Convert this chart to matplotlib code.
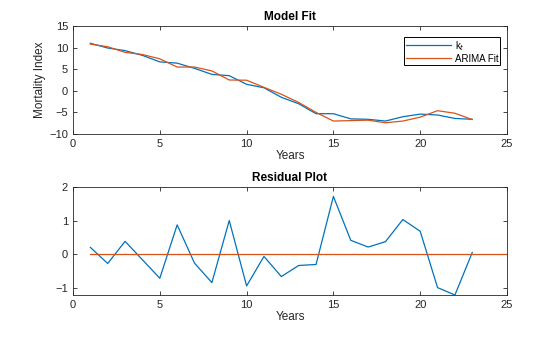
import matplotlib.pyplot as plt

# data
years = list(range(1, 24))
kt = [11.0, 9.9, 9.3, 8.2, 6.7, 6.4, 5.2, 3.8, 3.5, 1.5, 0.7, -1.5, -3.0, -5.3,
      -5.3, -6.5, -6.6, -7.0, -6.0, -5.4, -5.6, -6.4, -6.6]
arima_fit = [10.8, 10.2, 8.9, 8.4, 7.4, 5.5, 5.5, 4.6, 2.5, 2.45, 0.8, -0.8, -2.7,
             -5.0, -7.0, -6.9, -6.8, -7.4, -7.0, -6.1, -4.6, -5.2, -6.65]
residuals = [0.2, -0.28, 0.38, -0.17, -0.72, 0.87, -0.27, -0.85, 1.0, -0.95, -0.07,
             -0.67, -0.34, -0.31, 1.72, 0.41, 0.21, 0.37, 1.03, 0.68, -1.0, -1.22, 0.05]

blue = '#0072BD'
orange = '#D95319'
txt = '#262626'

plt.rcParams['font.family'] = 'Liberation Sans'
plt.rcParams['font.size'] = 8

fig = plt.figure(figsize=(5.6, 3.37), dpi=100)
ax1 = fig.add_axes([73/560, 1-134/337, 434/560, 108/337])
ax2 = fig.add_axes([73/560, 1-295/337, 434/560, 108/337])

ax1.plot(years, kt, color=blue, lw=0.9, label='k$_t$')
ax1.plot(years, arima_fit, color=orange, lw=0.9, label='ARIMA Fit')
ax1.set_xlim(0, 25)
ax1.set_ylim(-10, 15)
ax1.set_yticks([-10, -5, 0, 5, 10, 15])
ax1.set_title('Model Fit', fontweight='bold', fontsize=8.5, color='black', pad=4)
ax1.set_xlabel('Years', fontsize=8.5, color=txt, labelpad=1)
ax1.set_ylabel('Mortality Index', fontsize=8.5, color=txt, labelpad=2)
leg = ax1.legend(loc='upper right', fontsize=7, frameon=True, fancybox=False,
                 edgecolor='black', framealpha=1, handlelength=4.6,
                 bbox_to_anchor=(0.985, 0.9), borderaxespad=0,
                 handletextpad=0.4, labelspacing=0.1, borderpad=0.2)
leg.get_frame().set_linewidth(0.7)

ax2.plot(years, residuals, color=blue, lw=0.9)
ax2.plot([years[0], 25], [0, 0], color=orange, lw=0.9)
ax2.set_xlim(0, 25)
ax2.set_ylim(-1.22, 2)
ax2.set_yticks([-1, 0, 1, 2])
ax2.set_title('Residual Plot', fontweight='bold', fontsize=8.5, color='black', pad=4)
ax2.set_xlabel('Years', fontsize=8.5, color=txt, labelpad=1)

for ax in (ax1, ax2):
    ax.set_xticks([0, 5, 10, 15, 20, 25])
    ax.tick_params(direction='in', length=3, width=0.6, top=True, right=True,
                   colors=txt, labelsize=8)
    for s in ax.spines.values():
        s.set_linewidth(0.6)
        s.set_color(txt)

fig.savefig('out.png', dpi=100)
